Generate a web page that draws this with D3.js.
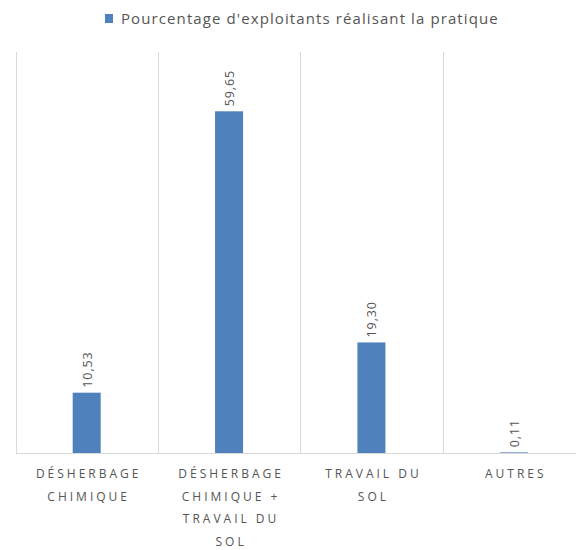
<!DOCTYPE html>
<html>
<head>
<meta charset="utf-8">
<script src="https://cdn.jsdelivr.net/npm/d3@7"></script>
<style>
  html, body { margin: 0; padding: 0; background: #fff; }
  svg { display: block; font-family: "Open Sans", "Noto Sans", sans-serif; }
</style>
</head>
<body>
<svg id="chart" width="576" height="550"></svg>
<script>
// Practices and share of farmers applying each one (%)
const categories = [
  ["DÉSHERBAGE", "CHIMIQUE"],
  ["DÉSHERBAGE", "CHIMIQUE +", "TRAVAIL DU", "SOL"],
  ["TRAVAIL DU", "SOL"],
  ["AUTRES"]
];
const values = [10.53, 59.65, 19.30, 0.11];
const valueLabels = ["10,53", "59,65", "19,30", "0,11"];
const seriesName = "Pourcentage d'exploitants réalisant la pratique";

const svg = d3.select("#chart");
const W = 576, H = 550;
const plotLeft = 15.5, plotRight = 585, plotTop = 52, plotBottom = 453;

const x = d3.scaleBand()
  .domain(d3.range(categories.length))
  .range([plotLeft, plotRight])
  .paddingInner(0).paddingOuter(0);

const y = d3.scaleLinear()
  .domain([0, 70])
  .range([plotBottom, plotTop]);

const grid = "#d9d9d9";
const textCol = "#555555";
const barCol = "#4f81bd";

// Category separators
const bounds = d3.range(categories.length + 1).map(i =>
  i < categories.length ? x(i) : plotRight);
svg.append("g").selectAll("line").data(bounds).join("line")
  .attr("x1", d => Math.round(d) + 0.5).attr("x2", d => Math.round(d) + 0.5)
  .attr("y1", plotTop).attr("y2", plotBottom)
  .attr("stroke", grid).attr("stroke-width", 1);

// Baseline
svg.append("line")
  .attr("x1", plotLeft).attr("x2", W)
  .attr("y1", plotBottom + 0.5).attr("y2", plotBottom + 0.5)
  .attr("stroke", grid).attr("stroke-width", 1);

// Bars
const barW = 28;
svg.append("g").selectAll("rect").data(values).join("rect")
  .attr("x", (d, i) => x(i) + x.bandwidth() / 2 - barW / 2)
  .attr("y", d => y(d))
  .attr("width", barW)
  .attr("height", d => plotBottom - y(d))
  .attr("fill", barCol);

// Value labels, rotated
svg.append("g").selectAll("text").data(values).join("text")
  .attr("transform", (d, i) =>
    `translate(${x(i) + x.bandwidth() / 2 + 5},${y(d) - 5}) rotate(-90)`)
  .attr("text-anchor", "start")
  .attr("font-size", 12.5)
  .attr("letter-spacing", 0.9)
  .attr("fill", textCol)
  .text((d, i) => valueLabels[i]);

// Category labels
const catG = svg.append("g");
categories.forEach((lines, i) => {
  const t = catG.append("text")
    .attr("text-anchor", "middle")
    .attr("font-size", 12)
    .attr("letter-spacing", 3)
    .attr("fill", textCol);
  lines.forEach((ln, j) => {
    t.append("tspan")
      .attr("x", x(i) + x.bandwidth() / 2 + 2)
      .attr("y", plotBottom + 25 + j * 22.5)
      .text(ln);
  });
});

// Legend
const lg = svg.append("g").attr("transform", "translate(105,12)");
lg.append("rect").attr("width", 8).attr("height", 9).attr("y", 2).attr("fill", barCol);
lg.append("text")
  .attr("x", 16).attr("y", 11.5)
  .attr("font-size", 15)
  .attr("letter-spacing", 1.1)
  .attr("fill", textCol)
  .text(seriesName);
</script>
</body>
</html>
